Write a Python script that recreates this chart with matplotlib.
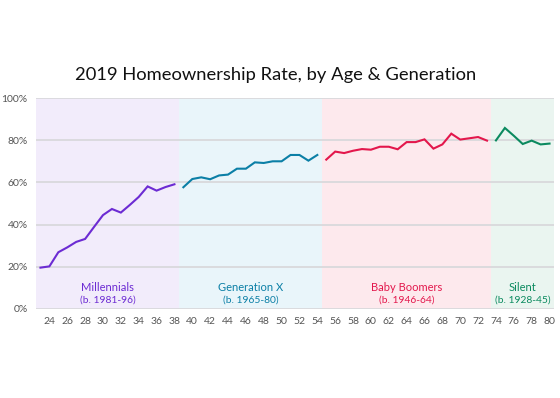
import matplotlib
matplotlib.use("Agg")
import matplotlib.pyplot as plt
import numpy as np

plt.rcParams['font.family'] = ['Lato', 'DejaVu Sans']

title = "2019 Homeownership Rate, by Age & Generation"

generations = ["Millennials", "Generation X", "Baby Boomers", "Silent"]
births = ["(b. 1981-96)", "(b. 1965-80)", "(b. 1946-64)", "(b. 1928-45)"]
gen_ages = [
    list(range(23, 39)),
    list(range(39, 55)),
    list(range(55, 74)),
    list(range(74, 81)),
]
millennials = [19.6, 20.2, 26.9, 29.2, 31.8, 33.2, 38.9, 44.5, 47.4, 45.7, 49.3, 53.1, 58.1, 56.1, 57.8, 59.1]
gen_x = [57.7, 61.6, 62.4, 61.5, 63.3, 63.7, 66.5, 66.5, 69.5, 69.2, 70.0, 70.0, 73.0, 73.0, 70.3, 73.0]
boomers = [70.8, 74.6, 73.9, 75.0, 75.8, 75.5, 76.9, 76.9, 75.7, 79.1, 79.1, 80.4, 76.0, 78.0, 83.1, 80.3, 80.9, 81.5, 79.8]
silent = [79.9, 85.8, 82.1, 78.2, 79.8, 78.0, 78.4]
gen_values = [millennials, gen_x, boomers, silent]

line_colors = ["#6c2bd3", "#0b7fa6", "#e3174c", "#0b8a5f"]
band_colors = ["#f2ecfb", "#e9f5fa", "#fde9ed", "#eaf5f0"]

yticks = [0, 20, 40, 60, 80, 100]
ytick_labels = ["0%", "20%", "40%", "60%", "80%", "100%"]
xticks = list(range(24, 81, 2))

fig = plt.figure(figsize=(5.6, 3.98), dpi=100)
ax = fig.add_axes([36/560, 1-309/398, (554-36)/560, (309-98)/398])

for ages, vals, lc, bc, name, b in zip(gen_ages, gen_values, line_colors, band_colors, generations, births):
    lo, hi = ages[0] - 0.5, ages[-1] + 0.5
    ax.axvspan(lo, hi, color=bc, zorder=0, lw=0)
    ax.plot(ages, vals, color=lc, lw=1.5, zorder=3, solid_joinstyle='miter')
    ax.text((lo + hi) / 2, 10, name, color=lc, ha='center', va='center', fontsize=8, zorder=4)
    ax.text((lo + hi) / 2, 4.3, b, color=lc, ha='center', va='center', fontsize=7.4, zorder=4)

ax.set_xlim(22.5, 80.5)
ax.set_ylim(0, 100)
ax.set_yticks(yticks)
ax.set_yticklabels(ytick_labels)
ax.set_xticks(xticks)
ax.set_xticklabels([str(x) for x in xticks])
ax.yaxis.grid(True, color="#d9d9dc", lw=1.3, zorder=1)
ax.set_axisbelow(True)
for s in ax.spines.values():
    s.set_visible(False)
ax.tick_params(axis='both', length=0, colors="#555555", labelsize=7.5)
ax.tick_params(axis='y', pad=6)
ax.tick_params(axis='x', pad=6)

fig.text(275.5/560, 1-75/398, title, ha='center', va='center', fontsize=13.2, color="#111111")

fig.savefig("out.png", dpi=100)
